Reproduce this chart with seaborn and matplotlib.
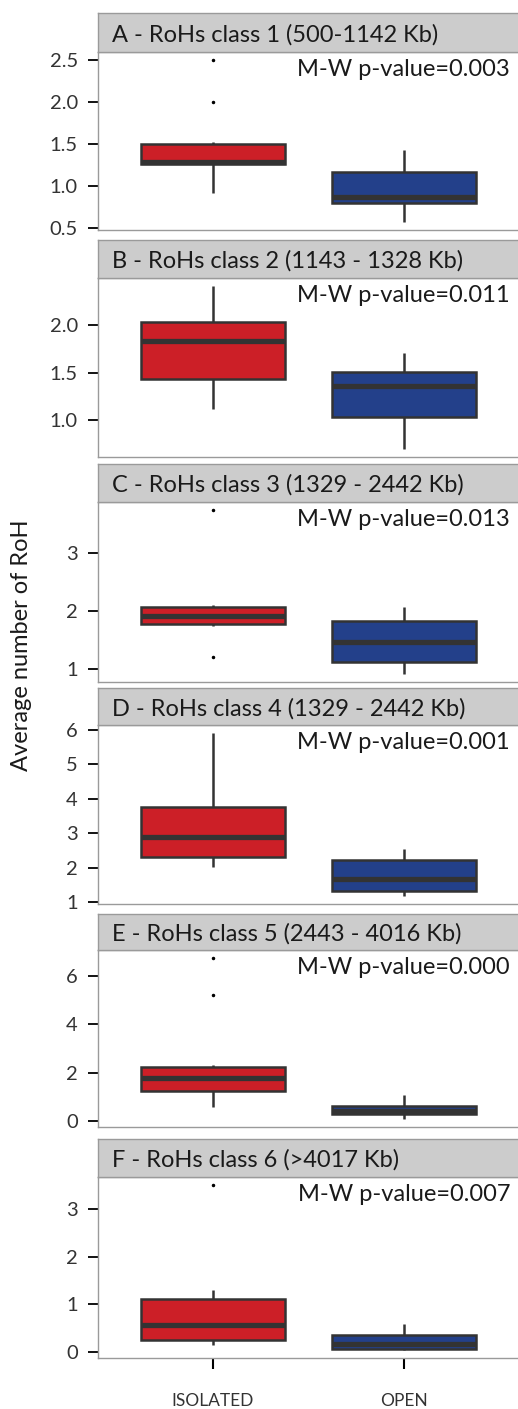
import numpy as np
import pandas as pd
import matplotlib
matplotlib.use("Agg")
import matplotlib.pyplot as plt
from matplotlib.ticker import MultipleLocator
import seaborn as sns

sns.set_style("white")
plt.rcParams['font.family'] = ['Lato', 'DejaVu Sans']

# ---------------- data ----------------
groups = ["ISOLATED", "OPEN"]
panel_titles = [
    "A - RoHs class 1 (500-1142 Kb)",
    "B - RoHs class 2 (1143 - 1328 Kb)",
    "C - RoHs class 3 (1329 - 2442 Kb)",
    "D - RoHs class 4 (1329 - 2442 Kb)",
    "E - RoHs class 5 (2443 - 4016 Kb)",
    "F - RoHs class 6 (>4017 Kb)",
]
pvalues = ["0.003", "0.011", "0.013", "0.001", "0.000", "0.007"]

a_isolated = [0.92, 1.05, 1.18, 1.26, 1.27, 1.28, 1.29, 1.35, 1.42, 1.50, 1.52, 2.00, 2.50]
a_open     = [0.57, 0.68, 0.75, 0.80, 0.82, 0.84, 0.87, 0.95, 1.05, 1.16, 1.25, 1.35, 1.43]
b_isolated = [1.12, 1.25, 1.35, 1.43, 1.60, 1.75, 1.83, 1.90, 1.97, 2.03, 2.15, 2.28, 2.41]
b_open     = [0.70, 0.85, 0.95, 1.04, 1.15, 1.28, 1.36, 1.42, 1.47, 1.51, 1.58, 1.65, 1.71]
c_isolated = [1.21, 1.75, 1.76, 1.775, 1.83, 1.88, 1.91, 1.96, 2.02, 2.07, 2.08, 2.10, 3.74]
c_open     = [0.92, 1.00, 1.07, 1.12, 1.25, 1.38, 1.465, 1.55, 1.70, 1.83, 1.92, 2.00, 2.08]
d_isolated = [2.03, 2.15, 2.25, 2.31, 2.55, 2.75, 2.90, 3.15, 3.45, 3.77, 4.30, 5.10, 5.90]
d_open     = [1.18, 1.24, 1.29, 1.335, 1.45, 1.56, 1.66, 1.82, 2.02, 2.22, 2.33, 2.43, 2.53]
e_isolated = [0.58, 0.85, 1.05, 1.23, 1.45, 1.62, 1.77, 1.92, 2.08, 2.24, 2.31, 5.20, 6.72]
e_open     = [0.085, 0.15, 0.22, 0.27, 0.32, 0.37, 0.41, 0.48, 0.55, 0.62, 0.78, 0.92, 1.06]
f_isolated = [0.16, 0.19, 0.22, 0.245, 0.35, 0.47, 0.577, 0.75, 0.93, 1.106, 1.20, 1.30, 3.50]
f_open     = [0.05, 0.06, 0.07, 0.076, 0.10, 0.14, 0.17, 0.23, 0.30, 0.366, 0.45, 0.52, 0.583]

panel_data = [
    (a_isolated, a_open), (b_isolated, b_open), (c_isolated, c_open),
    (d_isolated, d_open), (e_isolated, e_open), (f_isolated, f_open),
]
tick_steps = [0.5, 0.5, 1, 1, 2, 1]
ylabel = "Average number of RoH"

# ---------------- style / layout ----------------
W, H = 518, 1409
DPI = 100
red = "#CC1F27"
blue = "#23408A"
dark = "#333333"

# (strip top, strip bottom = panel top, panel bottom) in pixels
rows = [(13, 52, 230), (240, 278, 457), (464, 502, 682),
        (688, 725, 904), (914, 950, 1127), (1139, 1177, 1358)]
left_px, right_px = 98, 519

fig = plt.figure(figsize=(W / DPI, H / DPI), dpi=DPI)
fig.patch.set_facecolor("white")

def fx(px):
    return px / W

def fy(py):
    return 1 - py / H

for i, ((s_top, p_top, p_bot), title, pv, (iso, opn), step) in enumerate(
        zip(rows, panel_titles, pvalues, panel_data, tick_steps)):
    df = pd.DataFrame({
        "group": [groups[0]] * len(iso) + [groups[1]] * len(opn),
        "value": list(iso) + list(opn),
    })
    ax = fig.add_axes([fx(left_px), fy(p_bot), fx(right_px - left_px), (p_bot - p_top) / H])
    sns.boxplot(data=df, x="group", y="value", hue="group", order=groups,
                hue_order=groups, palette=[red, blue], saturation=1, width=0.75,
                linecolor=dark, linewidth=1.8, showcaps=False, legend=False,
                flierprops=dict(marker="o", markersize=1.5,
                                markerfacecolor="black", markeredgecolor="black"),
                medianprops=dict(linewidth=3.8, color=dark),
                ax=ax)
    vmin, vmax = df["value"].min(), df["value"].max()
    rng = vmax - vmin
    ax.set_ylim(vmin - 0.05 * rng, vmax + 0.05 * rng)
    ax.set_xlim(-0.6, 1.6)
    ax.yaxis.set_major_locator(MultipleLocator(step))
    ax.set_xlabel("")
    ax.set_ylabel("")
    ax.set_facecolor("white")
    for sp in ax.spines.values():
        sp.set_visible(True)
        sp.set_color("#9A9A9A")
        sp.set_linewidth(1.0)
    ax.tick_params(axis="y", length=7.5, width=1.3, color="black", pad=7,
                   labelsize=14.5, labelcolor=dark, left=True)
    if i == len(rows) - 1:
        ax.tick_params(axis="x", length=8, width=1.5, color="black", pad=17,
                       labelsize=12.5, labelcolor=dark, bottom=True)
    else:
        ax.tick_params(axis="x", bottom=False, labelbottom=False)
    ax.grid(False)

    # strip
    sax = fig.add_axes([fx(left_px), fy(p_top), fx(right_px - left_px), (p_top - s_top) / H])
    sax.set_facecolor("#CCCCCC")
    sax.set_xticks([])
    sax.set_yticks([])
    for sp in sax.spines.values():
        sp.set_color("#9A9A9A")
        sp.set_linewidth(1.0)
    sax.text((112 - left_px) / (right_px - left_px), 0.5, title,
             transform=sax.transAxes, ha="left", va="center_baseline",
             fontsize=17, color="#1A1A1A")

    # p-value annotation
    fig.text(fx(510), fy(p_top + 7), "M-W p-value=" + pv, ha="right", va="top",
             fontsize=17, color="#1A1A1A")

fig.text(fx(22), fy(645), ylabel, rotation=90, ha="center", va="center",
         fontsize=17, color="#1A1A1A")

fig.savefig("out.png", dpi=DPI, facecolor="white")
